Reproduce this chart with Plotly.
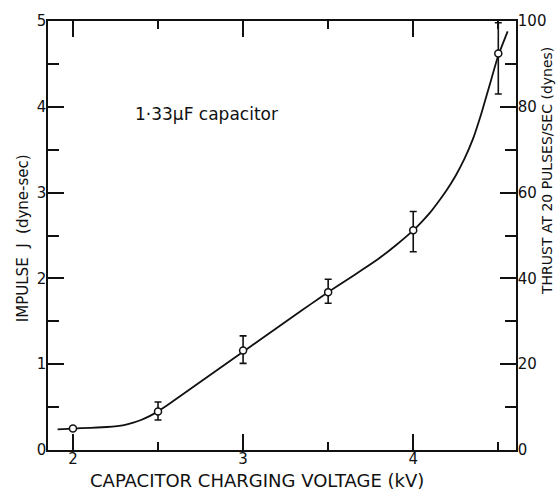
import numpy as np
import plotly.graph_objects as go

# Measured impulse per pulse vs capacitor charging voltage (1.33 uF capacitor)
voltage_kv = [2.0, 2.5, 3.0, 3.5, 4.0, 4.5]
impulse_j = [0.25, 0.45, 1.16, 1.84, 2.56, 4.62]
err_plus = [0.0, 0.11, 0.17, 0.15, 0.22, 0.36]
err_minus = [0.0, 0.10, 0.15, 0.13, 0.25, 0.47]

# Hand-drawn trend curve through the data
curve_kv = [1.91, 2.0, 2.1, 2.2, 2.3, 2.35, 2.4, 2.45, 2.5, 2.55, 2.6, 2.7,
            2.8, 2.9, 3.0, 3.1, 3.2, 3.3, 3.4, 3.5, 3.6, 3.7, 3.8, 3.9,
            4.0, 4.05, 4.1, 4.15, 4.2, 4.25, 4.3, 4.35, 4.4, 4.45, 4.5, 4.555]
curve_j = [0.24, 0.25, 0.258, 0.268, 0.29, 0.315, 0.35, 0.395, 0.45, 0.515,
           0.585, 0.725, 0.865, 1.005, 1.145, 1.285, 1.425, 1.565, 1.703,
           1.84, 1.97, 2.10, 2.235, 2.39, 2.56, 2.66, 2.77, 2.90, 3.04,
           3.20, 3.39, 3.62, 3.92, 4.26, 4.60, 4.88]

pulse_rate = 20  # pulses per second for the thrust scale
x_ticks = [2, 3, 4]
x_minor = [2.5, 3.5, 4.5]
j_ticks = [0, 1, 2, 3, 4, 5]
j_minor = [0.5, 1.5, 2.5, 3.5, 4.5]
thrust_ticks = [0, 20, 40, 60, 80, 100]
thrust_minor = [10, 30, 50, 70, 90]

FONT = "DejaVu Sans"
INK = "#111111"

v = np.array(voltage_kv)
j = np.array(impulse_j)
ep = np.array(err_plus)
em = np.array(err_minus)
has_err = (ep > 0) | (em > 0)

fig = go.Figure()

fig.add_trace(go.Scatter(
    x=curve_kv, y=curve_j, mode="lines",
    line=dict(color=INK, width=1.8, shape="spline", smoothing=0.3),
    hoverinfo="skip", showlegend=False,
))

fig.add_trace(go.Scatter(
    x=v[has_err], y=j[has_err], mode="markers",
    marker=dict(size=1, color="rgba(0,0,0,0)"),
    error_y=dict(type="data", symmetric=False, array=ep[has_err],
                 arrayminus=em[has_err], color=INK, thickness=1.6, width=3.5),
    hoverinfo="skip", showlegend=False,
))

fig.add_trace(go.Scatter(
    x=voltage_kv, y=impulse_j, mode="markers",
    marker=dict(symbol="circle", size=7, color="white",
                line=dict(color=INK, width=1.5)),
    showlegend=False,
))

# Thrust scale shares the same positions (thrust = impulse x pulse rate)
fig.add_trace(go.Scatter(
    x=voltage_kv, y=list(j * pulse_rate), yaxis="y2", mode="markers",
    marker=dict(size=1, color="rgba(0,0,0,0)"),
    hoverinfo="skip", showlegend=False,
))

axis_common = dict(
    showgrid=False, zeroline=False, showline=True, linecolor=INK, linewidth=1.6,
    ticks="inside", ticklen=16, tickwidth=1.6, tickcolor=INK,
    tickfont=dict(family=FONT, size=15, color=INK),
)

fig.update_layout(
    width=558, height=490,
    margin=dict(l=48, r=41, t=19, b=40),
    paper_bgcolor="white", plot_bgcolor="white",
    font=dict(family=FONT, color=INK),
    xaxis=dict(
        range=[1.8534, 4.604], tickvals=x_ticks, mirror="ticks",
        ticklabelstandoff=-6,
        minor=dict(tickvals=x_minor, ticks="inside", ticklen=8,
                   tickwidth=1.6, tickcolor=INK),
        **axis_common,
    ),
    yaxis=dict(
        range=[0, 5], tickvals=j_ticks, ticklabelstandoff=-3,
        minor=dict(tickvals=j_minor, ticks="inside", ticklen=11,
                   tickwidth=1.6, tickcolor=INK),
        **axis_common,
    ),
    yaxis2=dict(
        range=[0, 100], tickvals=thrust_ticks, overlaying="y", side="right",
        ticklabelstandoff=-3,
        minor=dict(tickvals=thrust_minor, ticks="inside", ticklen=11,
                   tickwidth=1.6, tickcolor=INK),
        **axis_common,
    ),
    annotations=[
        dict(text="CAPACITOR CHARGING VOLTAGE (kV)", xref="paper", yref="paper",
             x=0.4467, y=-0.070, xanchor="center", yanchor="middle",
             showarrow=False, font=dict(family=FONT, size=18, color=INK)),
        dict(text="IMPULSE  J  (dyne-sec)", xref="paper", yref="paper",
             x=-0.0533, y=0.494, xanchor="center", yanchor="middle",
             textangle=-90, showarrow=False,
             font=dict(family=FONT, size=15, color=INK)),
        dict(text="THRUST AT 20 PULSES/SEC (dynes)", xref="paper", yref="paper",
             x=1.066, y=0.650, xanchor="center", yanchor="middle",
             textangle=-90, showarrow=False,
             font=dict(family=FONT, size=14, color=INK)),
        dict(text="1·33μF capacitor", xref="x", yref="y",
             x=2.352, y=3.92, xanchor="left", yanchor="middle",
             showarrow=False, font=dict(family=FONT, size=17, color=INK)),
    ],
)

fig.write_html("out.html")
